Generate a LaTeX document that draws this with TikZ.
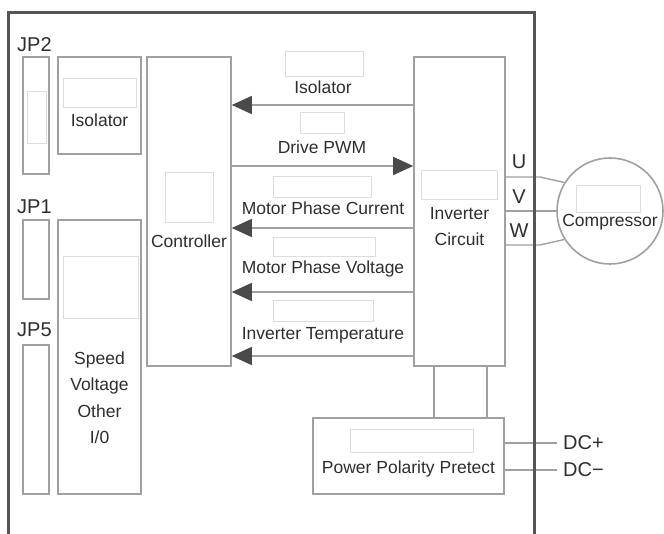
\documentclass[tikz,border=0pt]{standalone}
\usepackage{fontspec}
\setmainfont{Liberation Sans}
\usetikzlibrary{arrows.meta}
\definecolor{boxgray}{HTML}{A0A0A0}
\definecolor{blankgray}{HTML}{DDDDDD}
\definecolor{framegray}{HTML}{555555}
\definecolor{headgray}{HTML}{4A4A4A}
\definecolor{txtgray}{HTML}{2E2E2E}
\begin{document}
\begin{tikzpicture}[x=1pt,y=-1pt,
  box/.style={draw=boxgray,line width=1.6pt,fill=white,inner sep=0pt},
  blank/.style={draw=blankgray,line width=0.8pt,inner sep=0pt},
  txt/.style={text=txtgray,inner sep=0pt,font=\fontsize{17.5}{26.5}\selectfont},
  big/.style={text=txtgray,inner sep=0pt,font=\fontsize{20}{22}\selectfont},
  sig/.style={draw=boxgray,line width=1.6pt,-{Triangle[length=20pt,width=18pt,color=headgray]}},
  wire/.style={draw=boxgray,line width=1.4pt}]
\useasboundingbox (0,0) rectangle (664,534);
% frame
\draw[framegray,line width=3pt] (8,534) -- (8,13) -- (534,13) -- (534,534);
% boxes
\node[box,minimum width=26pt,minimum height=117pt] (jp2) at (36,115.5) {};
\node[box,minimum width=26pt,minimum height=79pt] (jp1) at (36,259.5) {};
\node[box,minimum width=26pt,minimum height=149pt] (jp5) at (36,419.5) {};
\node[box,minimum width=83pt,minimum height=97pt] (iso) at (99.5,105.5) {};
\node[box,minimum width=83pt,minimum height=274pt] (spd) at (99.5,357) {};
\node[box,minimum width=84pt,minimum height=309pt] (ctrl) at (189,211.5) {};
\node[box,minimum width=91pt,minimum height=309pt] (inv) at (459.5,211.5) {};
\node[box,minimum width=191pt,minimum height=76pt] (pw) at (408.5,456) {};
\node[box,circle,minimum size=106pt] (comp) at (610,211) {};
% blank placeholders
\node[blank,minimum width=19pt,minimum height=52pt] (b1) at (36.5,117) {};
\node[blank,minimum width=73pt,minimum height=29pt] (b2) at (99.5,92.5) {};
\node[blank,minimum width=48pt,minimum height=50pt] (b3) at (189,197) {};
\node[blank,minimum width=75pt,minimum height=62pt] (b4) at (100.5,287) {};
\node[blank,minimum width=76pt,minimum height=29pt] (b5) at (459,184.5) {};
\node[blank,minimum width=64pt,minimum height=27pt] (b6) at (608,198.5) {};
\node[blank,minimum width=123pt,minimum height=23pt] (b7) at (411.5,440.5) {};
\node[blank,minimum width=78pt,minimum height=25pt] (b8) at (324,63.5) {};
\node[blank,minimum width=44pt,minimum height=21pt] (b9) at (322,122.5) {};
\node[blank,minimum width=98pt,minimum height=21pt] (b10) at (322,186.5) {};
\node[blank,minimum width=102pt,minimum height=19pt] (b11) at (324,246.5) {};
\node[blank,minimum width=100pt,minimum height=21pt] (b12) at (323,310.5) {};
% texts
\node[txt] (tiso) at (99.5,120) {Isolator};
\node[txt] (tctrl) at (189,241) {Controller};
\node[txt,align=center] (tspd) at (99.5,397.5) {Speed\\Voltage\\Other\\I/0};
\node[txt,align=center] (tinv) at (459.5,226.5) {Inverter\\Circuit};
\node[txt] (tcomp) at (610,222) {Compressor};
\node[txt] (tpw) at (408.5,469) {Power Polarity Pretect};
\node[txt] (l1) at (323,87) {Isolator};
\node[txt] (l2) at (322,147) {Drive PWM};
\node[txt] (l3) at (323,208) {Motor Phase Current};
\node[txt] (l4) at (323,269) {Motor Phase Voltage};
\node[txt] (l5) at (323,335) {Inverter Temperature};
\node[big,anchor=west] (jp2l) at (17,45) {JP2};
\node[big,anchor=west] (jp1l) at (17,207) {JP1};
\node[big,anchor=west] (jp5l) at (17,330) {JP5};
\node[big] (u) at (519,162) {U};
\node[big] (v) at (519,197) {V};
\node[big] (w) at (519,231) {W};
\node[big,anchor=west] (dcp) at (563,443) {DC+};
\node[big,anchor=west] (dcm) at (563,470) {DC−};
% signal arrows
\draw[sig] (inv.west |- 0,105) -- (ctrl.east |- 0,105);
\draw[sig] (ctrl.east |- 0,166) -- (inv.west |- 0,166);
\draw[sig] (inv.west |- 0,228) -- (ctrl.east |- 0,228);
\draw[sig] (inv.west |- 0,292) -- (ctrl.east |- 0,292);
\draw[sig] (inv.west |- 0,356) -- (ctrl.east |- 0,356);
% inverter to power
\draw[wire] (inv.south -| 434,0) -- (pw.north -| 434,0);
\draw[wire] (inv.south -| 487,0) -- (pw.north -| 487,0);
% DC lines
\draw[wire] (pw.east |- 0,443) -- ([xshift=-6pt]dcp.west);
\draw[wire] (pw.east |- 0,470) -- ([xshift=-6pt]dcm.west);
% UVW
\coordinate (k1) at (540,177);
\coordinate (k3) at (540,245);
\draw[wire] (inv.east |- 0,177) -- (k1) -- (comp.148);
\draw[wire] (inv.east |- 0,211) -- (comp.west);
\draw[wire] (inv.east |- 0,245) -- (k3) -- (comp.212);
% redraw frame on top of wires
\draw[framegray,line width=3pt] (534,140) -- (534,534);
\end{tikzpicture}
\end{document}
